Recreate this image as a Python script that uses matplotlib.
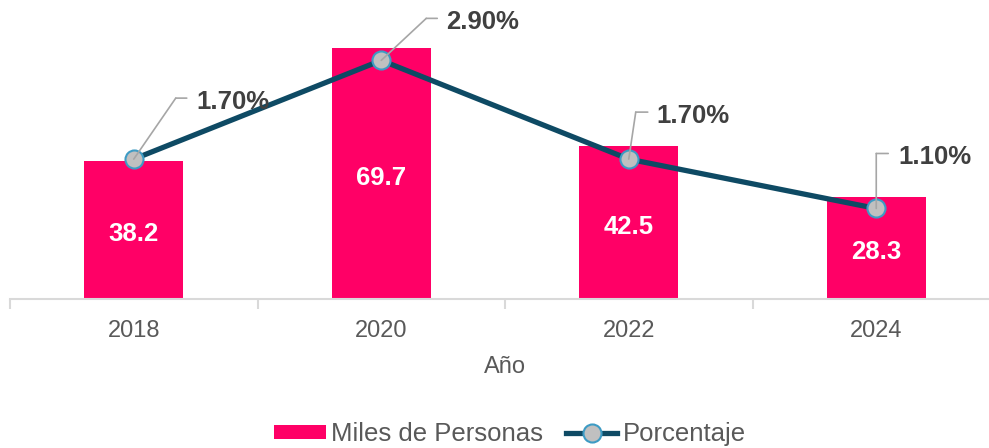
import matplotlib
matplotlib.use("Agg")
import matplotlib.pyplot as plt
from matplotlib.transforms import offset_copy
from matplotlib.lines import Line2D
from matplotlib.patches import Patch

plt.rcParams['font.family'] = ['Liberation Sans', 'DejaVu Sans']

years = ['2018', '2020', '2022', '2024']
miles = [38.2, 69.7, 42.5, 28.3]
porcentaje = [1.7, 2.9, 1.7, 1.1]
pct_labels = ['1.70%', '2.90%', '1.70%', '1.10%']

# leader offsets in pixels: (elbow dx, elbow dy, end dx, text dx)
leaders = [(42, 61, 53, 63), (45, 42, 56, 65), (7, 47, 19, 28), (0, 55, 12, 22)]

PINK = '#FF0066'
NAVY = '#0E4A64'
GRID = '#D9D9D9'

fig = plt.figure(figsize=(9.89, 4.48), dpi=100)
W, H = 989, 448
ax = fig.add_axes([10 / W, (H - 299) / H, 990 / W, 288 / H])
ax2 = ax.twinx()

x = list(range(len(years)))
bars = ax.bar(x, miles, width=0.4, color=PINK, zorder=2)
for xi, v in zip(x, miles):
    ax.annotate(f'{v:.1f}', xy=(xi, v / 2), xytext=(0, -4), textcoords='offset pixels',
                ha='center', va='center', color='white', fontsize=18.5,
                fontweight='bold')

ax.set_xlim(-0.5, 3.5)
ax.set_ylim(0, 80)
ax2.set_ylim(0, 3.5)

ax2.plot(x, porcentaje, color=NAVY, lw=3.8, marker='o', markersize=13,
         markerfacecolor='#C0C0C0', markeredgecolor='#3D9BC4', markeredgewidth=1.5,
         zorder=3, solid_capstyle='round')

for xi, yi, lab, (dx1, dy1, dx2, dxt) in zip(x, porcentaje, pct_labels, leaders):
    ax2.annotate('', xy=(xi, yi), xytext=(dx1, dy1), textcoords='offset pixels',
                 arrowprops=dict(arrowstyle='-', color='#A6A6A6', lw=1.2,
                                 shrinkA=0, shrinkB=0), zorder=4)
    ax2.annotate('', xy=(xi, yi),
                 xycoords=offset_copy(ax2.transData, fig=fig, x=dx1, y=dy1, units='dots'),
                 xytext=(dx2 - dx1, 0), textcoords='offset pixels',
                 arrowprops=dict(arrowstyle='-', color='#A6A6A6', lw=1.2,
                                 shrinkA=0, shrinkB=0), zorder=4)
    ax2.annotate(lab, xy=(xi, yi), xytext=(dxt, dy1 - 4), textcoords='offset pixels',
                 ha='left', va='center', fontsize=18.5, fontweight='bold',
                 color='#404040')

for a in (ax, ax2):
    for s in ('top', 'right', 'left'):
        a.spines[s].set_visible(False)
    a.set_yticks([])
ax2.spines['bottom'].set_visible(False)
ax.spines['bottom'].set_color(GRID)
ax.spines['bottom'].set_linewidth(1.5)

ax.set_xticks(x)
ax.set_xticklabels(years, fontsize=17, color='#595959')
ax.tick_params(axis='x', which='major', length=0, pad=15)
ax.set_xticks([-0.5, 0.5, 1.5, 2.5, 3.5], minor=True)
ax.tick_params(axis='x', which='minor', length=7, width=1.5, color=GRID, direction='out')
ax.set_xlabel('Año', fontsize=17, color='#595959', labelpad=10)

handles = [Patch(facecolor=PINK),
           Line2D([], [], color=NAVY, lw=3.8, marker='o', markersize=13,
                  markerfacecolor='#C0C0C0', markeredgecolor='#3D9BC4',
                  markeredgewidth=1.5)]
leg = fig.legend(handles, ['Miles de Personas', 'Porcentaje'], ncol=2,
                 loc='center', bbox_to_anchor=(510 / W, 1 - 434 / H), frameon=False,
                 fontsize=18.5, handlelength=2.0, handleheight=0.45, handletextpad=0.2,
                 columnspacing=0.9)
for t in leg.get_texts():
    t.set_color('#595959')

fig.savefig('out.png', dpi=100)
